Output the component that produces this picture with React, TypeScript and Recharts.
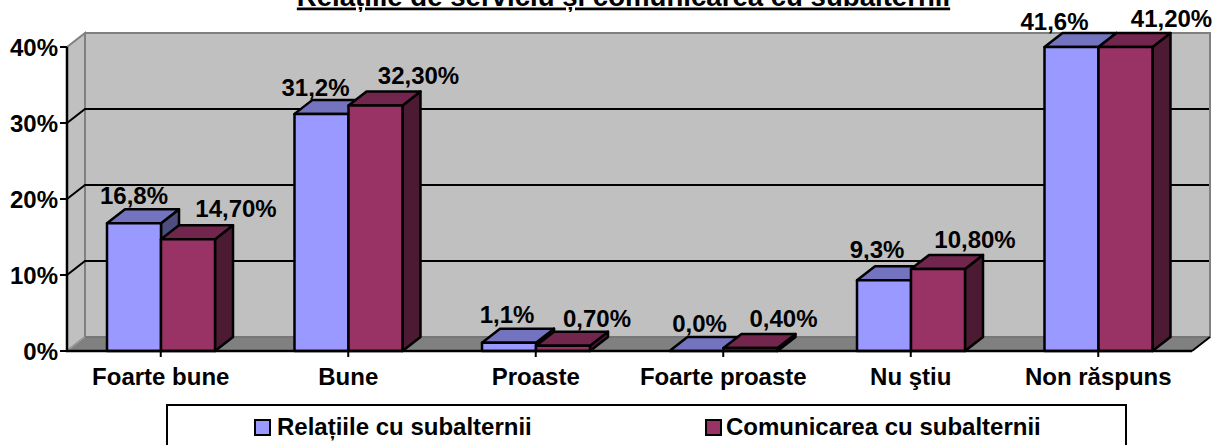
import React from 'react';
import { BarChart, Bar, XAxis, YAxis, Legend, LabelList } from 'recharts';

const categories = ['Foarte bune', 'Bune', 'Proaste', 'Foarte proaste', 'Nu ştiu', 'Non răspuns'];
const relatiiValues = [16.8, 31.2, 1.1, 0.0, 9.3, 41.6];
const comunicareValues = [14.7, 32.3, 0.7, 0.4, 10.8, 41.2];
const yTicks = [0, 10, 20, 30, 40];
const seriesNames = ['Relațiile cu subalternii', 'Comunicarea cu subalternii'];
const title = 'Relațiile de serviciu și comunicarea cu subalternii';

const AXIS_MAX = 40;
const WIDTH = 1214;
const HEIGHT = 445;
const PLOT = { left: 67, top: 47, right: 1192, bottom: 351 };
const DEPTH = { x: 18, y: 14 };
const FONT = '"Liberation Sans", Arial, sans-serif';
const TEXT_SIZE = 24;

const rows = categories.map((name, i) => ({ name, a: relatiiValues[i], b: comunicareValues[i] }));

const yOf = (v: number) => PLOT.bottom - (v / AXIS_MAX) * (PLOT.bottom - PLOT.top);

// nudges of the data labels relative to the centre of the top of each bar
const nudgeA = [[0, -19], [-6, -18], [-2, -20], [3, -19], [-7, -22], [-17, -17]];
const nudgeB = [[48, -22], [43, -22], [34, -19], [33, -21], [37, -21], [46, -20]];

const Walls = () => {
  const { left, right, bottom, top } = PLOT;
  const d = DEPTH;
  return (
    <g>
      <polygon points={`${left + d.x},${top - d.y} ${right + d.x},${top - d.y} ${right + d.x},${bottom - d.y} ${left + d.x},${bottom - d.y}`} fill="#C0C0C0" stroke="#808080" strokeWidth={2} />
      <polygon points={`${left},${top} ${left + d.x},${top - d.y} ${left + d.x},${bottom - d.y} ${left},${bottom}`} fill="#C0C0C0" stroke="#808080" strokeWidth={2} />
      <polygon points={`${left},${bottom} ${left + d.x},${bottom - d.y} ${right + d.x},${bottom - d.y} ${right},${bottom}`} fill="#808080" stroke="#808080" strokeWidth={1} />
      <line x1={left + d.x} y1={bottom - d.y} x2={right + d.x} y2={bottom - d.y} stroke="#6E6E6E" strokeWidth={1} />
      <line x1={left} y1={bottom} x2={left + d.x} y2={bottom - d.y} stroke="#A8A8A8" strokeWidth={1} />
      <line x1={right} y1={bottom} x2={right + d.x} y2={bottom - d.y} stroke="#000" strokeWidth={2} />
      {yTicks.filter((t) => t > 0 && t < AXIS_MAX).map((t) => (
        <polyline key={t} points={`${left},${yOf(t)} ${left + d.x},${yOf(t) - d.y} ${right + d.x - 1},${yOf(t) - d.y}`} fill="none" stroke="#000" strokeWidth={2} />
      ))}
    </g>
  );
};

const Bar3D = (props: any) => {
  const { x, y, width, height, front, topFill, sideFill } = props;
  const d = DEPTH;
  const b = y + height;
  const r = x + width;
  const line = { stroke: '#000', strokeWidth: 2.5, strokeLinejoin: 'round' as const };
  return (
    <g>
      <polygon points={`${r},${y} ${r + d.x},${y - d.y} ${r + d.x},${b - d.y} ${r},${b}`} fill={sideFill} {...line} />
      <polygon points={`${x},${y} ${x + d.x},${y - d.y} ${r + d.x},${y - d.y} ${r},${y}`} fill={topFill} {...line} />
      <rect x={x} y={y} width={width} height={height} fill={front} {...line} />
    </g>
  );
};

const makeLabel = (values: number[], digits: number, nudge: number[][]) => (props: any) => {
  const { x, y, width, index } = props;
  const text = values[index].toFixed(digits).replace('.', ',') + '%';
  return (
    <text x={x + width / 2 + nudge[index][0]} y={y + nudge[index][1]} textAnchor="middle" fontFamily={FONT} fontWeight={700} fontSize={TEXT_SIZE} fill="#000">
      {text}
    </text>
  );
};

const LegendBox = () => (
  <div style={{ position: 'absolute', left: 166, top: 404, width: 957, height: 60, border: '2px solid #000', background: '#fff', boxSizing: 'content-box', fontFamily: FONT, fontWeight: 700, fontSize: TEXT_SIZE, color: '#000' }}>
    {seriesNames.map((n, i) => (
      <div key={n} style={{ position: 'absolute', top: 7, left: i === 0 ? 86 : 537, display: 'flex', alignItems: 'center', whiteSpace: 'nowrap', lineHeight: '28px' }}>
        <span style={{ display: 'inline-block', width: 13, height: 13, border: '2.5px solid #000', background: i === 0 ? '#9999FF' : '#993366', marginRight: i === 0 ? 6 : 4 }} />
        {n}
      </div>
    ))}
  </div>
);

export default function App() {
  return (
    <div style={{ position: 'absolute', left: 0, top: 0, width: WIDTH, height: HEIGHT, overflow: 'hidden', background: '#fff' }}>
      <BarChart
        width={WIDTH}
        height={HEIGHT}
        data={rows}
        margin={{ left: 0, top: PLOT.top, right: WIDTH - PLOT.right, bottom: 0 }}
        barGap={0}
        barCategoryGap={40}
      >
        <Walls />
        <text x={623.5} y={5.5} textAnchor="middle" fontFamily={FONT} fontWeight={700} fontSize={27.6} textDecoration="underline" fill="#000">{title}</text>
        <XAxis dataKey="name" axisLine={{ stroke: '#000', strokeWidth: 2.5 }} tickLine={{ stroke: '#000', strokeWidth: 2 }} tickSize={6} height={HEIGHT - PLOT.bottom} tick={{ fontFamily: FONT, fontWeight: 700, fontSize: TEXT_SIZE, fill: '#000' }} interval={0} tickMargin={11} />
        <YAxis domain={[0, AXIS_MAX]} ticks={yTicks} tickFormatter={(v: number) => `${v}%`} width={PLOT.left} axisLine={{ stroke: '#000', strokeWidth: 2.5 }} tickLine={{ stroke: '#000', strokeWidth: 2 }} tickSize={7} tick={{ fontFamily: FONT, fontWeight: 700, fontSize: TEXT_SIZE, fill: '#000' }} tickMargin={2} />
        <Bar dataKey={(r: any) => Math.min(r.a, AXIS_MAX)} name={seriesNames[0]} isAnimationActive={false} shape={(p: any) => <Bar3D {...p} front="#9999FF" topFill="#7373BF" sideFill="#4D4D80" />}>
          <LabelList content={makeLabel(relatiiValues, 1, nudgeA)} />
        </Bar>
        <Bar dataKey={(r: any) => Math.min(r.b, AXIS_MAX)} name={seriesNames[1]} isAnimationActive={false} shape={(p: any) => <Bar3D {...p} front="#993366" topFill="#73264D" sideFill="#4D1A33" />}>
          <LabelList content={makeLabel(comunicareValues, 2, nudgeB)} />
        </Bar>
        <Legend content={() => <LegendBox />} wrapperStyle={{ position: 'absolute', left: 0, top: 0, width: 0, height: 0 }} />
      </BarChart>
    </div>
  );
}
